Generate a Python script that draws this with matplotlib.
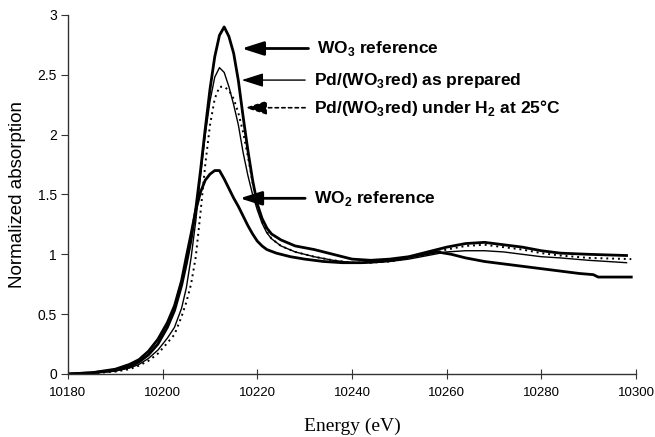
import matplotlib
matplotlib.use('Agg')
import matplotlib.pyplot as plt

plt.rcParams['font.family'] = 'Liberation Sans'
plt.rcParams['mathtext.fontset'] = 'custom'
plt.rcParams['mathtext.rm'] = 'Liberation Sans'
plt.rcParams['mathtext.bf'] = 'Liberation Sans:bold'

# W L3-edge XANES
wo2_e = [10180, 10185, 10190, 10193, 10195, 10197, 10199, 10201, 10202.5, 10204, 10205,
         10206, 10207, 10208, 10209, 10210, 10211, 10212, 10213, 10214, 10215, 10216,
         10217, 10218, 10219, 10220, 10221, 10222, 10224, 10227, 10230, 10234, 10238,
         10242, 10246, 10250, 10254, 10258, 10261, 10264, 10268, 10272, 10276, 10280,
         10284, 10288, 10291, 10292, 10299]
wo2_a = [0, 0.01, 0.04, 0.08, 0.12, 0.19, 0.29, 0.43, 0.57, 0.78, 0.98,
         1.17, 1.37, 1.52, 1.62, 1.67, 1.70, 1.70, 1.63, 1.55, 1.47, 1.40,
         1.32, 1.24, 1.17, 1.11, 1.07, 1.04, 1.01, 0.98, 0.96, 0.94, 0.93,
         0.93, 0.94, 0.96, 0.99, 1.02, 1.00, 0.97, 0.94, 0.92, 0.90, 0.88,
         0.86, 0.84, 0.83, 0.81, 0.81]

wo3_e = [10180, 10185, 10190, 10193, 10195, 10197, 10199, 10201, 10202.5, 10204, 10205,
         10206, 10207, 10208, 10209, 10210, 10211, 10212, 10213, 10214, 10215, 10216,
         10217, 10218, 10219, 10220, 10221, 10222, 10223, 10225, 10228, 10232, 10236,
         10240, 10244, 10248, 10252, 10256, 10260, 10264, 10268, 10272, 10276, 10280,
         10284, 10290, 10298]
wo3_a = [0, 0.01, 0.03, 0.06, 0.10, 0.16, 0.25, 0.39, 0.53, 0.74, 0.92,
         1.12, 1.38, 1.70, 2.05, 2.38, 2.65, 2.83, 2.90, 2.82, 2.68, 2.45,
         2.15, 1.87, 1.62, 1.42, 1.30, 1.22, 1.17, 1.12, 1.07, 1.04, 1.00,
         0.96, 0.95, 0.96, 0.98, 1.02, 1.06, 1.09, 1.10, 1.08, 1.06, 1.03,
         1.01, 1.00, 0.99]

prep_e = [10180, 10185, 10190, 10193, 10195, 10197, 10199, 10201, 10202.5, 10204, 10205,
          10206, 10207, 10208, 10209, 10210, 10211, 10212, 10213, 10214, 10215, 10216,
          10217, 10218, 10219, 10220, 10221, 10222, 10223, 10225, 10228, 10232, 10236,
          10240, 10244, 10248, 10252, 10256, 10260, 10264, 10268, 10272, 10276, 10280,
          10284, 10290, 10298]
prep_a = [0, 0.005, 0.025, 0.05, 0.08, 0.13, 0.20, 0.30, 0.39, 0.55, 0.72,
          0.97, 1.28, 1.66, 2.00, 2.28, 2.48, 2.56, 2.52, 2.40, 2.25, 2.08,
          1.85, 1.66, 1.50, 1.37, 1.26, 1.18, 1.13, 1.07, 1.02, 0.98, 0.95,
          0.93, 0.93, 0.94, 0.96, 0.99, 1.02, 1.03, 1.03, 1.02, 1.00, 0.98,
          0.97, 0.95, 0.93]

h2_e = [10180, 10185, 10190, 10193, 10195, 10197, 10199, 10201, 10202.5, 10204, 10205,
        10206, 10207, 10208, 10209, 10210, 10211, 10212, 10213, 10214, 10215, 10216,
        10217, 10218, 10219, 10220, 10221, 10222, 10223, 10225, 10228, 10232, 10236,
        10240, 10244, 10248, 10252, 10256, 10260, 10264, 10268, 10272, 10276, 10280,
        10284, 10290, 10299]
h2_a = [0, 0.005, 0.02, 0.04, 0.07, 0.11, 0.17, 0.26, 0.33, 0.48, 0.60,
        0.75, 0.98, 1.35, 1.75, 2.08, 2.30, 2.40, 2.40, 2.37, 2.30, 2.18,
        2.02, 1.82, 1.60, 1.42, 1.28, 1.19, 1.13, 1.07, 1.02, 0.98, 0.95,
        0.93, 0.93, 0.94, 0.97, 1.00, 1.04, 1.07, 1.08, 1.06, 1.04, 1.01,
        0.99, 0.97, 0.96]

fig = plt.figure(figsize=(6.55, 4.37), dpi=100)
ax = fig.add_axes([0.1038, 0.1442, 0.8672, 0.8215])

ax.plot(wo2_e, wo2_a, color='black', lw=2.0)
ax.plot(wo3_e, wo3_a, color='black', lw=2.0)
ax.plot(prep_e, prep_a, color='black', lw=1.0)
ax.plot(h2_e, h2_a, color='black', lw=1.4, ls=(0, (1, 2)))

ax.set_xlim(10180, 10300)
ax.set_ylim(0, 3)
ax.set_xticks([10180, 10200, 10220, 10240, 10260, 10280, 10300])
ax.set_yticks([0, 0.5, 1, 1.5, 2, 2.5, 3])
ax.set_yticklabels(['0', '0.5', '1', '1.5', '2', '2.5', '3'])
ax.tick_params(axis='x', direction='inout', length=7, labelsize=9.5, pad=6, color='#333333')
ax.tick_params(axis='y', direction='out', length=5, labelsize=10, pad=3, color='#333333')
for s in ['top', 'right']:
    ax.spines[s].set_visible(False)
for s in ['left', 'bottom']:
    ax.spines[s].set_color('#333333')
    ax.spines[s].set_linewidth(1.0)

ax.set_xlabel('Energy (eV)', family='Liberation Serif', fontsize=14, labelpad=13)
ax.set_ylabel('Normalized absorption', fontsize=13.5, labelpad=8)

# labels with arrows
labels = [r'WO$_\mathbf{3}$ reference',
          r'Pd/(WO$_\mathbf{3}$red) as prepared',
          r'Pd/(WO$_\mathbf{3}$red) under H$_\mathbf{2}$ at 25°C',
          r'WO$_\mathbf{2}$ reference']
tips = [(10216.7, 2.72), (10216.7, 2.456), (10217.4, 2.225), (10216.3, 1.468)]
tails = [10230.8, 10230.1, 10230.1, 10230.1]
arrow_lw = [2.0, 1.0, 1.2, 2.0]
arrow_ls = ['-', '-', (0, (2, 2)), '-']
for lab, (xt, yt), xs, lw, ls in zip(labels, tips, tails, arrow_lw, arrow_ls):
    ax.annotate('', xy=(xt, yt), xytext=(xs, yt),
                arrowprops=dict(arrowstyle='-|>,head_length=1.1,head_width=0.35',
                                color='black', lw=lw, ls=ls, shrinkA=0, shrinkB=0,
                                mutation_scale=12))
    ax.text(xs + 1.8, yt, lab, fontsize=12.5, fontweight='bold', va='center', ha='left')

fig.savefig('out.png', dpi=100)
